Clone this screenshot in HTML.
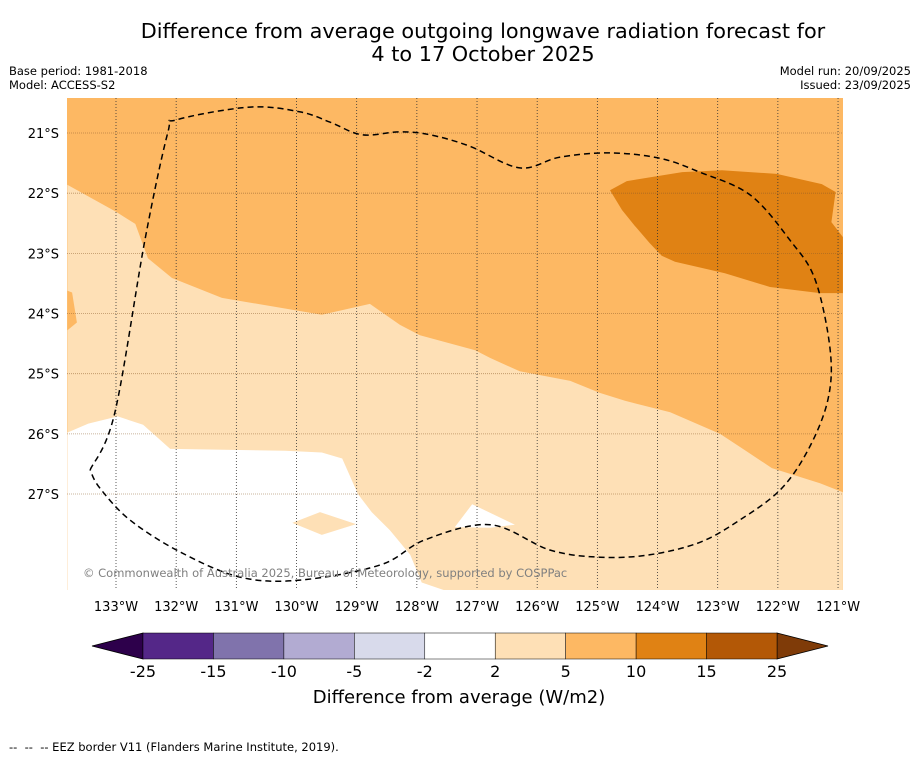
<!DOCTYPE html>
<html><head><meta charset="utf-8"><style>
html,body{margin:0;padding:0;background:#fff;width:919px;height:758px;overflow:hidden;font-family:"Liberation Sans","DejaVu Sans",sans-serif}
svg{display:block}
</style></head><body>
<svg id="chart" width="919" height="758" xmlns="http://www.w3.org/2000/svg" font-family="DejaVu Sans, Liberation Sans, sans-serif">
<text x="483" y="38" font-size="20.8" text-anchor="middle">Difference from average outgoing longwave radiation forecast for</text>
<text x="483" y="61" font-size="20.8" text-anchor="middle">4 to 17 October 2025</text>
<text x="9" y="75" font-size="11.5">Base period: 1981-2018</text>
<text x="9" y="89" font-size="11.5">Model: ACCESS-S2</text>
<text x="911" y="75" font-size="11.5" text-anchor="end">Model run: 20/09/2025</text>
<text x="911" y="89" font-size="11.5" text-anchor="end">Issued: 23/09/2025</text>
<defs><clipPath id="mapclip"><rect x="67" y="98" width="776" height="492"/></clipPath></defs>
<g id="map" clip-path="url(#mapclip)"></g>
<g id="axes"></g>
<g id="cbar"></g>
<text x="459" y="703" font-size="18" text-anchor="middle">Difference from average (W/m2)</text>
<text x="9" y="751" font-size="11.5" style="white-space:pre">--  --  -- EEZ border V11 (Flanders Marine Institute, 2019).</text>
</svg>
<script>
const lonTicks=[-133,-132,-131,-130,-129,-128,-127,-126,-125,-124,-123,-122,-121];
const latTicks=[-21,-22,-23,-24,-25,-26,-27];
const cbarBounds=[-25,-15,-10,-5,-2,2,5,10,15,25];
const cbarColors=["#542788","#8073ac","#b2abd2","#d8daeb","#ffffff","#fee0b6","#fdb863","#e08214","#b35806"];
const lightRegion=[[-133.81,-21.86],[-133,-22.31],[-132.68,-22.51],[-132.47,-23.08],[-132.07,-23.41],[-131.24,-23.74],[-129.58,-24.02],[-128.78,-23.84],[-128.28,-24.19],[-127.95,-24.36],[-127.03,-24.61],[-126.78,-24.74],[-126.29,-24.96],[-125.45,-25.12],[-124.96,-25.32],[-124.54,-25.45],[-123.79,-25.64],[-122.96,-26.0],[-122.55,-26.27],[-122.1,-26.57],[-121.3,-26.82],[-120.92,-26.97],[-120.92,-28.6],[-133.81,-28.6]];
const notchRegion=[[-133.81,-23.62],[-133.73,-23.65],[-133.65,-24.15],[-133.81,-24.28]];
const whiteRegion=[[-133.81,-25.98],[-133.46,-25.83],[-132.97,-25.71],[-132.55,-25.85],[-132.1,-26.25],[-130.19,-26.28],[-129.58,-26.31],[-129.24,-26.41],[-128.98,-27.0],[-128.75,-27.3],[-128.45,-27.6],[-128.11,-28.01],[-127.92,-28.47],[-127.54,-28.6],[-133.81,-28.6]];
const lightIsland=[[-130.07,-27.48],[-129.61,-27.30],[-129.01,-27.50],[-129.58,-27.68]];
const whiteIsland=[[-127.37,-27.55],[-127.08,-27.17],[-126.37,-27.51],[-126.78,-27.56]];
const darkRegion=[[-124.79,-21.95],[-124.51,-21.8],[-123.59,-21.65],[-122.93,-21.62],[-122.02,-21.68],[-121.27,-21.85],[-121.04,-21.98],[-121.11,-22.48],[-120.92,-22.73],[-120.92,-23.66],[-121.3,-23.66],[-122.13,-23.56],[-122.88,-23.33],[-123.71,-23.14],[-123.93,-23.04],[-124.13,-22.83],[-124.38,-22.54],[-124.59,-22.28]];
const eezLine=[[-133.43,-26.60],[-133.02,-25.65],[-132.52,-22.78],[-132.14,-21.0],[-131.99,-20.78],[-130.77,-20.57],[-129.94,-20.65],[-129.44,-20.82],[-128.91,-21.03],[-128.28,-20.98],[-127.78,-21.03],[-127.12,-21.22],[-126.29,-21.58],[-125.62,-21.40],[-124.79,-21.33],[-123.96,-21.42],[-123.30,-21.65],[-122.46,-22.03],[-121.80,-22.78],[-121.38,-23.44],[-121.13,-24.61],[-121.17,-25.44],[-121.50,-26.27],[-121.96,-26.93],[-122.63,-27.43],[-123.29,-27.80],[-124.13,-28.01],[-124.96,-28.05],[-125.79,-27.93],[-126.78,-27.51],[-127.86,-27.76],[-128.61,-28.18],[-129.94,-28.43],[-130.94,-28.38],[-131.94,-27.96],[-132.77,-27.43],[-133.27,-26.90],[-133.43,-26.60]];
const NS='http://www.w3.org/2000/svg';
const xS=lon=>116+(lon+133)*60.17;
const yS=lat=>133+(-21-lat)*60.17;
function mk(tag,attrs,parent){const e=document.createElementNS(NS,tag);for(const k in attrs)e.setAttribute(k,attrs[k]);parent.appendChild(e);return e;}
const map=document.getElementById('map');
const bg=mk('rect',{x:67,y:98,width:776,height:492,fill:'#fdb863'},map);


function poly(pts,fill,name){const p=mk('polygon',{points:pts.map(q=>xS(q[0]).toFixed(1)+','+yS(q[1]).toFixed(1)).join(' '),fill:fill},map);

}
poly(lightRegion,'#fee0b6','region-2-to-5');
poly(notchRegion,'#fdb863','region-5-to-10-notch');
poly(whiteRegion,'#ffffff','region-neutral');
poly(lightIsland,'#fee0b6','region-2-to-5-island');
poly(whiteIsland,'#ffffff','region-neutral-island');
poly(darkRegion,'#e08214','region-10-to-15');
const ax=document.getElementById('axes');
lonTicks.forEach(l=>{const x=xS(l);
const g=mk('line',{x1:x,x2:x,y1:98,y2:590,stroke:'#333','stroke-width':0.8,'stroke-dasharray':'1,2'},map);


const t=mk('text',{x:x,y:611,'font-size':13,'text-anchor':'middle'},ax);t.textContent=Math.abs(l)+'°W';

});
latTicks.forEach(l=>{const y=yS(l);
const g=mk('line',{x1:67,x2:843,y1:y,y2:y,stroke:'#8a5a2a','stroke-opacity':0.6,'stroke-width':0.8,'stroke-dasharray':'1,1'},map);


const t=mk('text',{x:59,y:y+5,'font-size':13,'text-anchor':'end'},ax);t.textContent=Math.abs(l)+'°S';

});
// smooth (Catmull-Rom) EEZ path
const P=eezLine.map(q=>[xS(q[0]),yS(q[1])]);
let d='M'+P[0][0].toFixed(1)+','+P[0][1].toFixed(1);
for(let i=0;i<P.length-1;i++){const p0=P[Math.max(i-1,0)],p1=P[i],p2=P[i+1],p3=P[Math.min(i+2,P.length-1)];
const c1=[p1[0]+(p2[0]-p0[0])/6,p1[1]+(p2[1]-p0[1])/6],c2=[p2[0]-(p3[0]-p1[0])/6,p2[1]-(p3[1]-p1[1])/6];
d+=` C${c1[0].toFixed(1)},${c1[1].toFixed(1)} ${c2[0].toFixed(1)},${c2[1].toFixed(1)} ${p2[0].toFixed(1)},${p2[1].toFixed(1)}`;}
const eez=mk('path',{d:d,fill:'none',stroke:'#000','stroke-width':1.5,'stroke-dasharray':'6,4'},map);


const cr=mk('text',{x:83,y:577,'font-size':11.5,fill:'#808080'},map);cr.textContent='© Commonwealth of Australia 2025, Bureau of Meteorology, supported by COSPPac';


const cb=document.getElementById('cbar');
const cx0=143,cx1=777,cy0=633,cy1=659,n=cbarColors.length,w=(cx1-cx0)/n;
const lt=mk('polygon',{points:`${cx0},${cy0} 92,646 ${cx0},${cy1}`,fill:'#2d004b',stroke:'#000','stroke-width':0.8},cb);


const rt=mk('polygon',{points:`${cx1},${cy0} 828,646 ${cx1},${cy1}`,fill:'#7f3b08',stroke:'#000','stroke-width':0.8},cb);


cbarColors.forEach((c,i)=>{const r=mk('rect',{x:cx0+i*w,y:cy0,width:w,height:cy1-cy0,fill:c,stroke:'#000','stroke-width':0.5},cb);

});
cbarBounds.forEach((b,i)=>{const t=mk('text',{x:cx0+i*w,y:677,'font-size':16,'text-anchor':'middle'},cb);t.textContent=b;

});
</script>
</body></html>
